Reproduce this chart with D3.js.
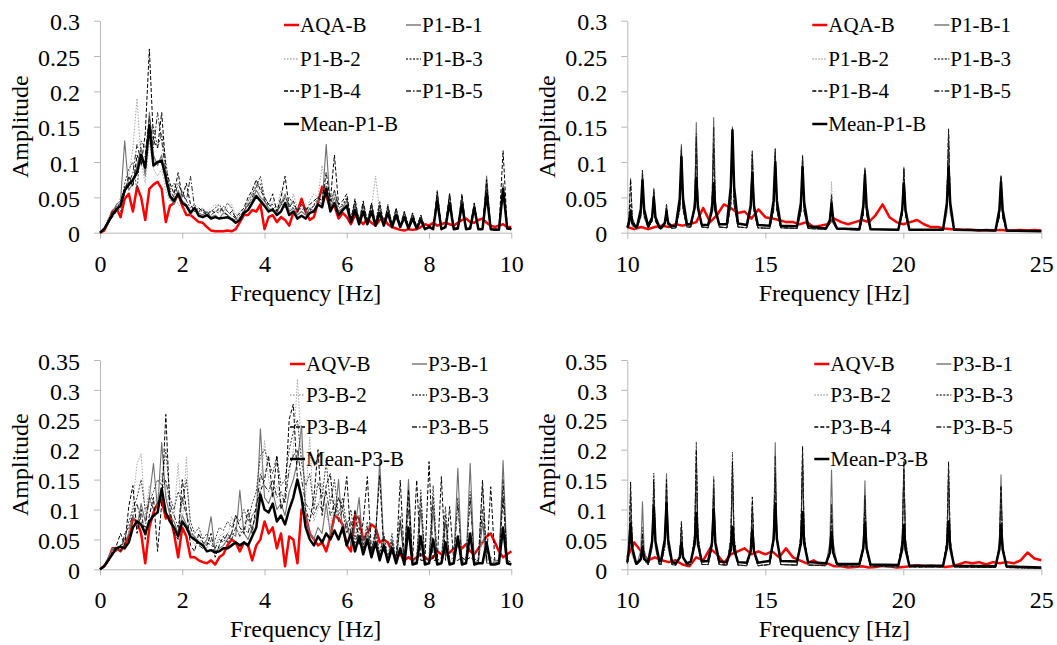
<!DOCTYPE html>
<html>
<head>
<meta charset="utf-8">
<script src="https://cdn.jsdelivr.net/npm/d3@7"></script>
</head>
<body style="margin:0;background:#fff">
<svg id="chart" width="1057" height="645"></svg>
<script>
// amplitudes below are stored x1000

// frequency bins
const leftHz = d3.range(0, 101).map(i => i / 10);          // 0..10 Hz, 0.1 Hz bins
const redHz = d3.range(0, 61).map(i => 10 + i / 4);        // 10..25 Hz, 0.25 Hz bins
const rightHz = [
  10.00, 10.06, 10.12, 10.18, 10.32,
  10.35, 10.49, 10.55, 10.61, 10.75,
  10.76, 10.90, 10.96, 11.02, 11.16,
  11.22, 11.36, 11.42, 11.48, 11.62,
  11.76, 11.90, 11.96, 12.02, 12.16,
  12.30, 12.44, 12.50, 12.56, 12.70,
  12.93, 13.07, 13.13, 13.19, 13.33,
  13.61, 13.75, 13.81, 13.87, 14.01,
  14.33, 14.47, 14.53, 14.59, 14.73,
  15.16, 15.30, 15.36, 15.42, 15.56,
  16.15, 16.29, 16.35, 16.41, 16.55,
  17.20, 17.34, 17.40, 17.46, 17.60,
  18.41, 18.55, 18.61, 18.67, 18.81,
  19.82, 19.96, 20.02, 20.08, 20.22,
  21.44, 21.58, 21.64, 21.70, 21.84,
  23.34, 23.48, 23.54, 23.60, 23.74,
  25.00];

// ---- top left: P1, 0-10 Hz
const tlAQA = [0,3,15,30,35,22,48,55,30,65, 50,18,62,68,72,62,15,38,42,55, 38,25,25,20,15,14,8,3,2,2,
  2,3,2,5,15,25,25,32,30,40, 5,22,25,15,22,18,10,28,30,48, 30,18,22,42,65,52,35,38,20,28,
  22,12,25,18,12,20,14,10,18,20, 12,8,6,4,3,5,4,5,8,12, 10,14,10,12,14,12,10,14,18,20,
  15,14,18,20,14,10,8,10,12,8, 8];
const tlP1 = [0,5,18,28,40,45,130,60,70,95, 120,80,170,110,95,110,70,50,40,60, 45,40,30,35,28,25,30,22,25,20,
  28,25,20,18,20,30,40,45,60,50, 45,35,30,28,40,55,30,35,25,30, 25,35,30,45,40,125,35,50,30,35,
  45,15,40,15,38,12,40,12,35,10, 35,10,30,8,28,8,25,6,22,5, 8,5,60,5,8,55,5,6,52,5,
  6,42,5,5,80,5,4,4,60,6, 5];
const tlP2 = [0,5,20,30,35,50,60,80,120,190, 100,70,130,90,80,90,60,45,55,40, 35,30,25,30,35,28,30,35,40,30,
  25,35,40,25,30,35,40,55,70,50, 40,30,45,35,60,40,30,55,35,40, 30,45,55,50,95,60,40,55,35,30,
  40,20,35,15,30,15,35,80,30,12, 30,10,28,10,25,8,22,8,20,6, 8,6,40,6,8,40,6,8,40,6,
  8,35,6,6,50,6,5,5,55,6, 6];
const tlP3 = [0,8,12,25,38,30,70,90,100,60, 130,120,140,150,120,140,100,60,70,50, 60,45,35,40,30,35,25,30,35,40,
  30,42,35,20,25,30,45,55,65,80, 50,40,35,30,45,35,50,40,30,35, 28,30,40,45,60,55,45,60,40,40,
  50,20,45,18,42,15,40,15,45,12, 40,12,35,10,30,10,28,8,25,6, 10,6,55,6,10,55,6,8,52,6,
  8,40,6,6,70,6,5,5,70,8, 6];
const tlP4 = [0,3,15,22,30,40,55,80,65,110, 95,140,260,130,120,170,90,70,55,85, 50,70,40,30,35,30,25,32,28,35,
  30,25,30,22,28,35,50,60,75,60, 50,40,55,30,50,80,35,45,30,40, 30,40,45,50,45,85,45,110,40,45,
  55,18,48,15,45,15,42,12,40,12, 38,10,35,10,30,8,28,8,25,6, 10,6,58,6,10,55,6,8,55,6,
  8,42,6,6,75,6,5,5,116,8, 6];
const tlP5 = [0,6,18,30,32,45,65,70,85,125, 100,110,165,120,170,130,85,60,50,70, 55,45,80,35,30,32,28,25,30,28,
  38,30,25,20,22,32,38,50,65,70, 45,38,40,32,38,50,40,35,32,38, 35,32,38,50,55,70,40,60,35,38,
  48,18,42,15,40,14,38,14,38,10, 36,10,32,8,28,8,26,7,22,5, 9,5,52,5,9,50,5,7,48,5,
  7,38,5,5,65,5,4,4,65,7, 5];
const tlMean = [0,5,15,25,33,38,60,68,75,85, 110,92,152,95,100,102,78,52,45,55, 42,38,28,35,24,22,25,20,22,20,
  21,22,19,14,18,28,32,42,52,45, 38,30,33,25,30,42,25,30,20,24, 20,28,30,40,36,62,30,42,25,32,
  38,15,32,12,30,12,30,10,28,10, 28,8,25,8,22,6,20,6,18,5, 8,5,45,5,8,42,5,6,40,5,
  6,35,5,5,55,5,4,4,62,6, 5];

// ---- top right: P1, 10-25 Hz
const trAQA = [8,5,8,5,8,10,8,12,10,12, 15,35,15,25,40,35,28,30,20,33, 22,20,18,15,15,12,15,8,10,12,
  20,15,12,15,18,15,25,40,22,15, 12,15,18,12,8,8,6,5,5,4, 4,3,4,3,4,3,3,4,3,4, 3];
const trP1 = [8,10,30,10,5, 6,22,80,22,8, 7,18,63,18,6, 5,12,40,12,6, 7,35,125,35,8, 8,44,156,44,8,
  7,46,163,46,8, 7,42,150,42,8, 7,32,115,32,7, 6,33,118,33,7, 6,31,110,31,6, 5,13,45,13,5,
  4,26,92,26,5, 4,26,93,26,4, 4,28,100,28,4, 3,23,81,23,3, 2];
const trP2 = [8,9,25,9,5, 6,20,70,20,7, 6,16,55,16,6, 5,11,35,11,6, 7,31,110,31,8, 8,34,120,34,8,
  7,36,130,36,8, 7,39,140,39,8, 7,28,100,28,7, 6,31,110,31,7, 6,28,100,28,6, 5,20,72,20,5,
  4,24,85,24,5, 4,24,85,24,4, 4,34,120,34,4, 3,21,75,21,3, 2];
const trP3 = [8,22,77,22,6, 6,25,89,25,8, 7,17,60,17,6, 5,11,38,11,6, 7,34,120,34,8, 8,35,125,35,8,
  7,35,125,35,8, 7,41,145,41,8, 7,33,117,33,7, 6,32,115,32,7, 6,29,105,29,6, 5,14,50,14,5,
  4,25,88,25,5, 4,25,90,25,4, 4,39,140,39,4, 3,22,78,22,3, 2];
const trP4 = [8,21,75,21,6, 6,24,85,24,8, 7,16,58,16,6, 5,10,36,10,6, 7,32,115,32,8, 8,36,130,36,8,
  7,34,120,34,8, 7,39,140,39,8, 7,31,110,31,7, 6,31,112,31,7, 6,30,108,30,6, 5,13,48,13,5,
  4,25,90,25,5, 4,25,88,25,4, 4,41,147,41,4, 3,22,80,22,3, 2];
const trP5 = [8,11,40,11,6, 6,25,88,25,8, 7,17,62,17,6, 5,11,40,11,6, 7,34,122,34,8, 8,39,140,39,8,
  7,42,150,42,8, 7,41,148,41,8, 7,31,112,31,7, 6,33,119,33,7, 6,30,106,30,6, 5,15,55,15,5,
  4,25,91,25,5, 4,26,92,26,4, 4,41,145,41,4, 3,22,79,22,3, 2];
const trMean = [7,14,31,14,8, 8,33,74,33,10, 9,22,50,22,8, 7,14,30,14,9, 10,48,107,48,12, 12,35,78,35,11,
  11,32,70,32,12, 12,65,145,65,13, 11,38,84,38,11, 10,45,100,45,10, 9,42,93,42,9, 6,18,41,18,6,
  5,37,82,37,5, 4,32,70,32,4, 4,42,93,42,4, 3,32,72,32,3, 2];

// ---- bottom left: P3, 0-10 Hz
const blAQV = [0,5,15,35,35,30,40,55,85,80, 60,10,70,95,110,115,85,90,60,20, 70,55,20,20,15,12,10,15,8,20,
  25,40,50,45,30,45,40,15,40,50, 80,60,70,35,60,5,55,50,10,100, 90,60,50,40,45,30,55,90,85,75,
  40,30,90,85,50,60,75,70,45,50, 45,30,20,25,15,20,15,20,25,20, 15,20,30,25,30,28,35,40,35,42,
  30,25,35,45,55,60,45,30,20,25, 30];
const blP1 = [0,5,20,35,30,40,45,60,90,70, 110,80,120,177,100,212,120,90,80,60, 90,75,60,55,45,40,50,88,30,35,
  40,50,60,55,132,60,50,70,90,235, 120,110,130,100,110,90,130,150,180,240, 90,60,50,70,60,110,60,80,150,60,
  80,40,70,120,30,60,25,50,182,40, 15,50,10,80,10,150,10,10,100,10, 10,100,10,10,80,10,10,169,10,10,
  177,10,10,80,10,10,10,10,182,10, 8];
const blP2 = [0,8,18,30,40,35,50,60,110,177, 193,90,140,110,120,160,130,100,90,177, 70,188,60,40,50,45,35,50,40,55,
  60,50,88,70,60,80,70,90,100,140, 215,150,120,140,110,130,160,200,318,200, 120,221,80,100,145,90,70,120,80,100,
  60,70,50,60,40,60,35,50,30,40, 20,30,15,40,15,60,15,15,50,15, 15,50,15,15,60,15,15,50,15,15,
  60,15,15,50,15,15,15,15,60,15, 12];
const blP3 = [0,5,15,25,35,40,50,80,100,120, 150,100,110,130,150,140,200,120,100,130, 110,150,80,60,70,50,60,45,50,70,
  65,80,70,90,80,100,80,110,130,190, 200,180,160,190,140,150,200,230,250,180, 140,160,100,145,120,180,110,150,90,120,
  70,100,50,90,40,80,30,70,25,60, 20,60,15,90,15,120,15,20,133,15, 20,140,15,20,105,15,20,120,15,20,
  130,15,20,138,15,20,15,15,140,15, 12];
const blP4 = [0,3,12,28,40,60,40,105,140,60, 100,50,90,120,30,110,259,100,60,50, 150,100,40,30,60,45,40,60,20,40,
  55,45,60,90,70,60,100,60,110,130, 150,190,120,190,100,120,251,276,150,120, 100,80,120,200,90,140,160,90,120,100,
  155,50,100,40,80,155,30,60,157,30, 20,40,15,149,15,133,15,149,15,15, 180,15,15,155,15,105,15,15,20,15,
  20,15,15,149,15,138,15,15,120,15, 12];
const blP5 = [0,5,15,25,35,30,60,70,90,110, 80,70,120,100,110,130,150,110,90,70, 120,90,70,50,40,35,45,40,35,50,
  45,60,50,70,55,70,60,90,100,160, 140,130,150,120,130,110,170,190,200,150, 110,100,90,110,100,130,90,110,80,100,
  60,80,40,70,35,70,30,60,25,55, 15,45,12,80,12,100,12,12,120,12, 12,120,12,12,90,12,12,110,12,12,
  120,12,12,100,12,12,12,12,150,12, 10];
const blMean = [0,5,15,25,35,38,35,45,70,80, 75,60,80,90,95,135,95,80,70,55, 80,70,55,50,45,40,30,32,28,30,
  35,35,40,45,40,45,40,55,70,125, 100,95,110,80,90,75,100,120,150,120, 70,50,40,55,45,60,50,65,50,70,
  40,60,30,55,25,50,20,45,15,40, 12,35,10,35,8,70,8,10,55,8, 10,50,8,10,45,8,10,55,8,10,
  60,8,10,10,45,8,8,10,70,10, 8];

// ---- bottom right: P3, 10-25 Hz
const brAQV = [20,45,30,15,20,15,12,15,8,5, 20,15,35,25,10,25,30,35,25,30, 25,30,20,35,20,15,10,15,8,10,
  5,5,3,4,5,3,4,6,5,3, 4,5,7,5,6,5,4,5,8,12, 10,12,8,12,10,12,10,15,28,18, 15];
const brP1 = [10,25,90,25,8, 8,32,113,32,8, 8,36,130,36,8, 8,45,160,45,8, 7,20,70,20,7, 8,42,150,42,8,
  8,43,155,43,8, 7,42,150,42,7, 6,28,100,28,6, 8,59,212,59,8, 7,48,170,48,7, 7,46,166,46,6,
  5,41,148,41,5, 4,42,150,42,4, 4,39,140,39,4, 3,44,158,44,3, 2];
const brP2 = [10,22,80,22,8, 8,17,60,17,8, 8,34,120,34,8, 8,34,120,34,8, 7,17,60,17,7, 8,53,190,53,8,
  8,34,120,34,8, 7,45,160,45,7, 6,25,90,25,6, 8,50,180,50,8, 7,50,180,50,7, 6,34,120,34,6,
  5,31,110,31,5, 4,48,170,48,4, 4,42,150,42,4, 3,34,120,34,3, 2];
const brP3 = [10,34,120,34,8, 8,20,70,20,8, 8,45,161,45,8, 8,39,140,39,8, 7,21,75,21,7, 8,60,213,60,8,
  8,39,140,39,8, 7,55,196,55,7, 6,31,110,31,6, 8,48,170,48,8, 7,53,190,53,7, 6,28,100,28,6,
  5,34,120,34,5, 4,45,160,45,4, 4,45,160,45,4, 3,36,130,36,3, 2];
const brP4 = [10,41,146,41,8, 8,17,60,17,8, 8,42,150,42,8, 8,42,150,42,8, 7,22,80,22,7, 8,56,200,56,8,
  8,36,130,36,8, 7,50,180,50,7, 6,34,121,34,6, 8,45,160,45,8, 7,58,206,58,7, 6,25,90,25,6,
  5,32,115,32,5, 4,49,175,49,4, 4,50,180,50,4, 3,39,140,39,3, 2];
const brP5 = [10,36,130,36,8, 8,14,50,14,8, 8,39,140,39,8, 8,36,130,36,8, 7,18,65,18,7, 8,50,180,50,8,
  8,42,150,42,8, 7,48,170,48,7, 6,29,105,29,6, 8,53,190,53,8, 7,55,195,55,7, 6,31,110,31,6,
  5,35,125,35,5, 4,50,180,50,4, 4,48,170,48,4, 3,35,125,35,3, 2];
const brMean = [12,35,77,35,10, 10,17,38,17,12, 13,47,105,47,14, 14,50,110,50,12, 10,20,44,20,10, 13,42,94,42,13,
  14,45,100,45,13, 12,32,71,32,12, 11,30,66,30,11, 14,50,110,50,14, 13,43,96,43,12, 10,28,63,28,9,
  9,35,77,35,8, 7,33,74,33,6, 6,36,80,36,6, 5,33,74,33,5, 3];

const ticksY1 = [0, 0.05, 0.1, 0.15, 0.2, 0.25, 0.3];
const ticksY3 = [0, 0.05, 0.1, 0.15, 0.2, 0.25, 0.3, 0.35];
const ticksLeftX = [0, 2, 4, 6, 8, 10];
const ticksRightX = [10, 15, 20, 25];

const namesP1 = ["AQA-B", "P1-B-1", "P1-B-2", "P1-B-3", "P1-B-4", "P1-B-5", "Mean-P1-B"];
const namesP3 = ["AQV-B", "P3-B-1", "P3-B-2", "P3-B-3", "P3-B-4", "P3-B-5", "Mean-P3-B"];

// line looks, same order as the names
const looks = [
  {stroke: "#ff0000", width: 2.5, dash: null},
  {stroke: "#707070", width: 1.1, dash: null},
  {stroke: "#a8a8a8", width: 1, dash: "1.5,1.5"},
  {stroke: "#404040", width: 1, dash: "2,1.5"},
  {stroke: "#000000", width: 1, dash: "4,2"},
  {stroke: "#262626", width: 1, dash: "5,2,1.5,2"},
  {stroke: "#000000", width: 2.5, dash: null}
];

const panels = [
  {x0: 100, x1: 511.3, yBase: 232.7, yTop: 20.7, xDom: [0, 10], yMax: 0.3, xt: ticksLeftX, yt: ticksY1,
   names: namesP1, hz: [leftHz, leftHz, leftHz, leftHz, leftHz, leftHz, leftHz],
   amp: [tlAQA, tlP1, tlP2, tlP3, tlP4, tlP5, tlMean], legX: 184, legRows: [25, 59, 91, 124]},
  {x0: 627.3, x1: 1041.3, yBase: 232.7, yTop: 20.7, xDom: [10, 25], yMax: 0.3, xt: ticksRightX, yt: ticksY1,
   names: namesP1, hz: [redHz, rightHz, rightHz, rightHz, rightHz, rightHz, rightHz],
   amp: [trAQA, trP1, trP2, trP3, trP4, trP5, trMean], legX: 185, legRows: [25, 59, 91, 124]},
  {x0: 100, x1: 511.3, yBase: 569.3, yTop: 360, xDom: [0, 10], yMax: 0.35, xt: ticksLeftX, yt: ticksY3,
   names: namesP3, hz: [leftHz, leftHz, leftHz, leftHz, leftHz, leftHz, leftHz],
   amp: [blAQV, blP1, blP2, blP3, blP4, blP5, blMean], legX: 190, legRows: [364, 395, 427, 459]},
  {x0: 627.3, x1: 1041.3, yBase: 569.3, yTop: 360, xDom: [10, 25], yMax: 0.35, xt: ticksRightX, yt: ticksY3,
   names: namesP3, hz: [redHz, rightHz, rightHz, rightHz, rightHz, rightHz, rightHz],
   amp: [brAQV, brP1, brP2, brP3, brP4, brP5, brMean], legX: 187, legRows: [364, 395, 427, 459]}
];

const svg = d3.select("#chart");
const axisColor = "#b8b8b8";
const fmt = d => d === 0 ? "0" : d3.format(".2~f")(d);

// every label gets the serif face, both as attribute and as inline style
function label(sel, size) {
  return sel
    .attr("font-family", "Liberation Serif")
    .attr("font-size", size)
    .style("font-family", '"Liberation Serif"')
    .attr("fill", "#000");
}

panels.forEach(p => {
  const x = d3.scaleLinear().domain(p.xDom).range([p.x0, p.x1]);
  const y = d3.scaleLinear().domain([0, p.yMax]).range([p.yBase, p.yTop]);
  const g = svg.append("g");

  // axes
  const ax = g.append("g")
    .attr("transform", `translate(0,${p.yBase})`)
    .call(d3.axisBottom(x).tickValues(p.xt).tickSize(6).tickSizeOuter(0).tickPadding(16).tickFormat(d3.format("d")));
  const ay = g.append("g")
    .attr("transform", `translate(${p.x0},0)`)
    .call(d3.axisLeft(y).tickValues(p.yt).tickSize(6).tickSizeOuter(0).tickPadding(14).tickFormat(fmt));
  [ax, ay].forEach(a => {
    a.attr("font-family", "Liberation Serif").attr("font-size", 24);
    a.selectAll("path, line").attr("stroke", axisColor);
    label(a.selectAll("text"), 24);
  });
  ay.selectAll("text").attr("dy", "0.38em");

  label(g.append("text"), 24)
    .attr("transform", `translate(${p.x0 - 72},${(p.yBase + p.yTop) / 2}) rotate(-90)`)
    .attr("text-anchor", "middle").text("Amplitude");
  label(g.append("text"), 24)
    .attr("x", (p.x0 + p.x1) / 2).attr("y", p.yBase + 68)
    .attr("text-anchor", "middle").text("Frequency [Hz]");

  // series
  const line = d3.line().x(d => x(d[0])).y(d => y(d[1] / 1000));
  p.amp.forEach((vals, k) => {
    const pts = vals.map((v, i) => [p.hz[k][i], v]);
    g.append("path")
      .datum(pts)
      .attr("d", line)
      .attr("fill", "none")
      .attr("stroke", looks[k].stroke)
      .attr("stroke-width", looks[k].width)
      .attr("stroke-dasharray", looks[k].dash)
      .attr("stroke-linejoin", "round");
  });

  // legend, two columns
  p.names.forEach((name, k) => {
    const col = k % 2, row = Math.floor(k / 2);
    const sx = p.x0 + p.legX + col * 122;
    const ry = p.legRows[row];
    g.append("line")
      .attr("x1", sx).attr("x2", sx + 15).attr("y1", ry).attr("y2", ry)
      .attr("stroke", looks[k].stroke)
      .attr("stroke-width", looks[k].width + (k === 0 || k === 6 ? 0 : 0.3))
      .attr("stroke-dasharray", looks[k].dash);
    label(g.append("text"), 21)
      .attr("x", sx + 16).attr("y", ry + 7)
      .text(name);
  });
});
</script>
</body>
</html>
